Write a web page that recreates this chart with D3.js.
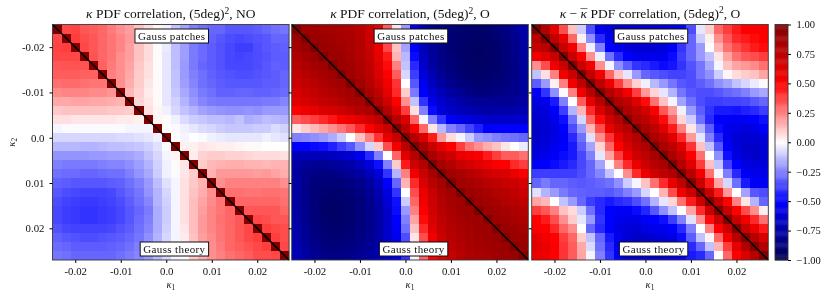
<!DOCTYPE html>
<html><head><meta charset="utf-8">
<script src="https://cdnjs.cloudflare.com/ajax/libs/d3/7.8.5/d3.min.js"></script>
<style>
html,body{margin:0;padding:0;background:#fff}
svg{display:block;filter:blur(.35px)}
text{font-family:"Liberation Serif",serif;fill:#111}
</style></head><body><div id="chart"></div>
<script>
const binEdges=[-0.025,-0.023,-0.021,-0.019,-0.017,-0.015,-0.013,-0.011,-0.009,-0.007,-0.005,-0.003,-0.001,0.001,0.003,0.005,0.007,0.009,0.011,0.013,0.015,0.017,0.019,0.021,0.023,0.025,0.027];
const axisTicks=[-0.02,-0.01,0,0.01,0.02];
const axisTickLabels=["-0.02","-0.01","0.0","0.01","0.02"];
const colorTicks=[-1,-0.75,-0.5,-0.25,0,0.25,0.5,0.75,1];
const colorTickLabels=["\u22121.00","\u22120.75","\u22120.50","\u22120.25","0.00","0.25","0.50","0.75","1.00"];
const annotationTop="Gauss patches";
const annotationBottom="Gauss theory";
// correlation x100, rows top to bottom
const corrNO=[
[100,36,37,33,32,30,26,22,19,12,7,2,-3,-12,-18,-25,-28,-30,-30,-33,-33,-33,-32,-30,-28,-27],
[36,100,38,35,33,30,27,24,20,13,7,2,-3,-12,-19,-25,-28,-31,-33,-35,-36,-35,-34,-33,-30,-30],
[37,38,100,36,33,30,27,24,19,12,7,1,-4,-13,-19,-26,-29,-32,-34,-36,-38,-38,-35,-33,-32,-31],
[36,36,36,100,34,30,27,22,19,12,7,1,-5,-13,-19,-26,-29,-32,-34,-36,-37,-36,-35,-34,-32,-32],
[33,34,34,34,100,31,26,22,18,11,6,1,-5,-13,-20,-26,-30,-32,-34,-36,-36,-36,-35,-33,-31,-32],
[32,32,32,31,31,100,25,22,17,10,6,1,-5,-12,-20,-25,-28,-31,-33,-34,-35,-35,-34,-33,-32,-30],
[28,29,29,28,27,27,100,22,16,10,5,1,-5,-12,-19,-24,-28,-30,-32,-33,-33,-33,-33,-32,-32,-30],
[23,24,24,24,23,23,21,100,14,9,4,1,-5,-11,-17,-22,-26,-28,-31,-31,-30,-30,-31,-31,-30,-29],
[17,17,18,18,17,17,16,15,100,8,5,1,-5,-9,-15,-20,-24,-26,-27,-27,-27,-27,-27,-26,-26,-24],
[11,12,12,12,12,12,11,11,10,100,6,2,-3,-8,-12,-15,-18,-20,-21,-22,-22,-21,-22,-20,-20,-20],
[6,6,5,5,5,5,5,4,4,3,100,2,1,-3,-7,-10,-11,-13,-13,-14,-12,-16,-15,-13,-14,-15],
[-2,-1,-1,-1,-1,-1,-1,-1,-2,-2,-2,100,0,-1,-3,-5,-7,-8,-10,-11,-11,-11,-10,-10,-7,-9],
[-8,-8,-8,-8,-8,-8,-8,-7,-7,-6,-5,-3,100,0,-2,0,-1,-3,-4,-5,-5,-5,-5,-3,-5,-6],
[-14,-14,-14,-15,-15,-14,-13,-13,-12,-11,-9,-6,-1,100,3,3,5,4,3,3,2,1,1,0,0,0],
[-21,-21,-21,-21,-20,-20,-19,-19,-18,-16,-12,-8,-2,2,100,4,9,10,10,9,9,8,7,7,7,6],
[-25,-26,-26,-26,-26,-25,-24,-24,-22,-19,-15,-9,-3,1,5,100,10,14,15,16,16,15,15,14,15,15],
[-28,-29,-29,-30,-30,-29,-28,-28,-25,-21,-17,-10,-3,-1,5,10,100,15,20,20,20,20,19,20,18,16],
[-31,-32,-33,-33,-33,-33,-32,-31,-28,-25,-20,-13,-6,-2,6,11,15,100,22,25,25,25,25,25,25,22],
[-33,-35,-36,-37,-37,-37,-36,-33,-30,-27,-21,-15,-8,-2,6,12,16,22,100,28,28,27,27,28,28,27],
[-35,-37,-38,-39,-39,-38,-37,-35,-32,-28,-24,-15,-9,-2,6,13,18,23,27,100,30,30,30,30,30,28],
[-36,-38,-39,-40,-40,-39,-38,-36,-33,-30,-26,-16,-10,-2,6,13,19,24,27,30,100,33,33,33,33,30],
[-36,-38,-39,-40,-40,-39,-38,-36,-33,-29,-25,-16,-10,-2,6,13,20,24,28,30,33,100,36,35,33,33],
[-34,-36,-37,-37,-37,-37,-36,-34,-32,-28,-24,-16,-9,-2,5,13,20,24,27,30,33,36,100,38,36,35],
[-31,-33,-34,-35,-35,-34,-33,-32,-30,-27,-22,-15,-8,-2,4,12,19,23,27,30,33,36,38,100,38,35],
[-29,-30,-32,-32,-32,-32,-31,-30,-28,-25,-21,-14,-8,-2,2,10,17,22,26,30,32,34,36,38,100,36],
[-27,-28,-30,-30,-30,-30,-30,-28,-26,-24,-20,-14,-8,-2,1,10,16,22,25,28,30,32,35,35,36,100]
];
const corrO=[
[100,88,88,86,85,84,82,78,70,58,32,5,-20,-55,-72,-80,-85,-88,-90,-91,-92,-91,-88,-85,-80,-74],
[88,100,90,88,87,85,83,79,70,58,35,8,-18,-55,-72,-80,-86,-89,-91,-92,-93,-92,-90,-87,-82,-76],
[86,90,100,90,88,87,84,80,72,58,36,12,-18,-52,-70,-79,-85,-89,-91,-93,-94,-93,-91,-88,-83,-77],
[82,86,90,100,90,88,85,80,73,60,45,15,-14,-48,-68,-78,-84,-88,-91,-93,-94,-93,-91,-88,-83,-78],
[78,82,86,89,100,90,87,82,75,63,48,25,-12,-42,-65,-76,-83,-87,-90,-92,-93,-92,-91,-88,-84,-78],
[74,78,82,85,88,100,88,84,77,65,52,32,-8,-38,-60,-72,-80,-85,-89,-91,-92,-91,-90,-87,-84,-78],
[70,74,78,82,85,87,100,87,80,68,55,40,0,-33,-55,-68,-76,-82,-86,-88,-90,-89,-88,-86,-83,-78],
[66,70,74,78,81,84,86,100,84,75,60,42,10,-26,-50,-62,-70,-76,-80,-84,-86,-86,-85,-84,-82,-78],
[62,66,70,74,76,80,84,85,100,82,68,50,22,-12,-40,-55,-65,-70,-75,-78,-80,-80,-80,-80,-79,-76],
[50,56,60,64,66,70,75,80,84,100,80,62,38,6,-25,-48,-60,-66,-70,-72,-74,-75,-75,-75,-74,-72],
[32,35,38,42,46,52,56,62,68,75,100,78,64,30,-2,-25,-40,-52,-57,-60,-62,-65,-65,-65,-65,-64],
[5,10,14,18,22,27,33,42,50,62,72,100,78,52,30,5,-14,-25,-30,-37,-44,-50,-50,-50,-50,-50],
[-25,-24,-22,-20,-16,-10,0,12,25,40,60,72,100,80,65,45,20,7,-2,-10,-20,-22,-25,-27,-28,-30],
[-50,-50,-48,-47,-44,-38,-33,-22,-8,10,35,55,78,100,85,72,60,50,38,28,22,16,12,5,0,-4],
[-70,-70,-70,-70,-68,-66,-62,-55,-42,-25,0,30,62,78,100,85,75,70,60,55,52,45,38,32,32,28],
[-75,-78,-80,-80,-78,-76,-74,-68,-60,-47,-25,10,45,70,80,100,85,80,72,67,62,58,52,50,42,38],
[-76,-82,-84,-85,-84,-82,-80,-76,-70,-60,-40,-15,25,55,72,85,100,87,84,80,75,70,66,64,58,52],
[-76,-83,-87,-88,-88,-87,-85,-82,-77,-68,-50,-30,15,42,65,78,85,100,87,85,82,78,76,72,70,65],
[-76,-83,-87,-90,-91,-90,-88,-85,-80,-72,-58,-40,0,35,58,72,82,87,100,88,87,84,80,78,75,70],
[-76,-83,-88,-91,-92,-91,-90,-87,-82,-75,-62,-47,-10,30,55,70,80,85,88,100,88,87,84,80,78,75],
[-76,-83,-88,-91,-93,-92,-90,-87,-83,-76,-65,-48,-20,25,52,68,78,83,87,88,100,89,87,85,82,80],
[-75,-82,-87,-90,-92,-91,-90,-87,-83,-76,-65,-50,-25,18,48,65,76,82,85,87,89,100,89,87,85,82],
[-74,-81,-86,-89,-91,-91,-89,-86,-82,-76,-65,-52,-28,12,42,62,74,80,84,86,88,89,100,90,88,85],
[-73,-80,-85,-88,-89,-89,-87,-85,-81,-75,-65,-55,-35,5,35,55,70,78,82,85,87,88,90,100,90,88],
[-72,-78,-83,-86,-87,-87,-85,-83,-80,-74,-65,-55,-40,0,30,52,68,76,80,84,86,87,88,90,100,90],
[-70,-76,-80,-83,-84,-84,-82,-80,-77,-72,-63,-55,-40,-2,30,50,62,72,78,82,84,85,87,88,90,100]
];
const corrMean=[
[100,80,60,35,12,-10,-35,-55,-60,-60,-60,-60,-60,-60,-60,-55,-50,-35,-5,10,30,38,45,50,50,52],
[78,100,75,58,30,3,-22,-42,-55,-60,-62,-62,-62,-62,-62,-55,-45,-30,-10,3,22,33,42,45,48,50],
[72,78,100,72,55,25,-3,-25,-50,-55,-60,-62,-62,-62,-60,-52,-40,-30,-20,0,15,28,35,40,45,48],
[55,62,72,100,72,52,22,-3,-28,-42,-50,-55,-56,-56,-55,-48,-38,-30,-20,-12,5,18,28,33,35,38],
[22,35,55,72,100,72,55,22,-2,-22,-32,-40,-42,-45,-48,-46,-40,-34,-27,-17,-2,12,18,20,23,28],
[-12,6,25,55,70,100,75,55,30,12,-5,-20,-30,-33,-35,-37,-37,-35,-27,-22,-10,2,7,10,12,18],
[-32,-20,3,25,55,75,100,78,58,38,22,9,-3,-14,-20,-27,-33,-35,-32,-28,-22,-18,-12,-8,-4,1],
[-52,-40,-22,-1,25,55,78,100,80,68,55,38,20,8,-5,-15,-27,-33,-35,-35,-33,-30,-28,-25,-20,-17],
[-58,-55,-45,-25,0,32,60,78,100,82,75,62,48,28,12,-2,-18,-28,-35,-38,-38,-37,-37,-36,-33,-30],
[-62,-60,-50,-38,-15,15,42,65,80,100,82,76,68,52,33,20,-3,-20,-32,-40,-45,-45,-46,-44,-42,-38],
[-65,-62,-55,-47,-28,-8,30,48,68,80,100,82,76,65,48,30,8,-10,-28,-42,-52,-52,-53,-53,-50,-47],
[-66,-62,-58,-50,-35,-20,14,35,58,72,80,100,84,76,62,45,25,5,-15,-32,-48,-55,-58,-60,-57,-52],
[-65,-62,-58,-52,-42,-28,-6,22,40,60,72,80,100,84,75,62,42,20,-5,-25,-42,-55,-62,-63,-62,-60],
[-62,-60,-55,-50,-45,-32,-18,8,30,50,65,75,82,100,84,76,62,40,12,-12,-33,-52,-60,-65,-65,-62],
[-58,-55,-52,-48,-45,-36,-25,-5,18,38,55,68,76,84,100,84,72,52,28,0,-22,-47,-58,-62,-65,-62],
[-52,-50,-48,-45,-42,-36,-30,-18,2,25,42,58,70,78,84,100,80,62,38,12,-12,-38,-50,-58,-60,-60],
[-38,-38,-38,-38,-38,-35,-30,-24,-12,0,22,42,58,68,76,82,100,78,55,28,-2,-25,-42,-52,-55,-55],
[-30,-26,-30,-30,-32,-33,-32,-30,-28,-22,-10,-2,12,28,42,60,76,100,72,45,18,-8,-28,-45,-52,-52],
[-6,-15,-20,-26,-30,-31,-32,-32,-33,-30,-25,-20,-8,0,15,35,55,72,100,72,45,20,0,-18,-33,-35],
[18,14,0,-12,-20,-30,-38,-42,-45,-42,-40,-35,-28,-15,-5,8,28,45,70,100,75,50,25,5,-15,-30],
[38,33,25,12,7,-10,-28,-42,-50,-53,-52,-48,-43,-33,-22,-12,0,18,42,72,100,72,50,35,22,3],
[50,45,35,22,10,-5,-20,-40,-50,-55,-57,-57,-53,-50,-47,-38,-25,-6,22,48,72,100,72,55,42,28],
[52,50,42,30,22,0,-30,-42,-50,-58,-60,-62,-58,-55,-55,-50,-42,-25,0,25,50,72,100,72,58,45],
[60,55,50,38,30,10,-12,-30,-45,-55,-62,-66,-65,-62,-60,-58,-48,-32,-12,2,30,55,78,100,78,65],
[62,58,52,40,32,17,-7,-28,-42,-55,-60,-65,-65,-62,-60,-58,-52,-42,-30,-12,15,38,60,80,100,80],
[58,56,50,40,32,18,-2,-25,-40,-50,-60,-60,-60,-60,-60,-55,-50,-45,-42,-30,0,30,50,65,78,100]
];
const corrByPanel=[corrNO,corrO,corrMean];

const W=831,H=300,plotTop=24.5,plotBottom=260,TSIZE=13.5,TICK=10.8;
const panelLefts=[52.5,291.7,531.7],panelW=236.6;
const seismic=d3.scaleLinear().domain([-1,-.5,0,.5,1]).range(["#00004d","#0000ff","#ffffff","#ff0000","#800000"]);
const svg=d3.select("#chart").append("svg").attr("width",W).attr("height",H);
const y=d3.scaleLinear().domain([-0.025,0.027]).range([plotTop,plotBottom]);

function kappa(t){t.append("tspan").attr("font-style","italic").text("\u03ba");}
function kappaBar(t){
  kappa(t);
  t.append("tspan").attr("dx",-6.6).attr("dy",-.5).text("\u00af");
  t.append("tspan").attr("dy",.5).text("");
}
function tail(t,end){
  t.append("tspan").text(" PDF correlation, (5deg)");
  t.append("tspan").attr("dy",-4.5).attr("font-size",9.5).text("2");
  t.append("tspan").attr("dy",4.5).text(end);
}
const titles=[
  t=>{kappa(t);tail(t,", NO");},
  t=>{kappa(t);tail(t,", O");},
  t=>{kappa(t);t.append("tspan").text(" \u2212 ");kappaBar(t);tail(t,", O");}
];

corrByPanel.forEach((m,p)=>{
  const L=panelLefts[p];
  const x=d3.scaleLinear().domain([-0.025,0.027]).range([L,L+panelW]);
  const g=svg.append("g");
  const cells=m.flatMap((row,r)=>row.map((v,c)=>({r,c,v})));
  g.selectAll("rect.cell").data(cells).join("rect").attr("class","cell")
    .attr("shape-rendering","crispEdges")
    .attr("x",d=>x(binEdges[d.c])).attr("y",d=>y(binEdges[d.r]))
    .attr("width",d=>x(binEdges[d.c+1])-x(binEdges[d.c]))
    .attr("height",d=>y(binEdges[d.r+1])-y(binEdges[d.r]))
    .attr("fill",d=>seismic(d.v/100));
  g.append("line").attr("x1",x(-0.025)).attr("y1",y(-0.025)).attr("x2",x(0.027)).attr("y2",y(0.027))
    .attr("stroke","#000").attr("stroke-width",1.5);
  g.append("rect").attr("x",L).attr("y",plotTop).attr("width",panelW).attr("height",plotBottom-plotTop)
    .attr("fill","none").attr("stroke","#333").attr("stroke-width",.9);

  const xa=d3.axisBottom(x).tickValues(axisTicks).tickFormat((d,i)=>axisTickLabels[i]).tickSize(3).tickPadding(4.5);
  const gx=svg.append("g").attr("transform",`translate(0,${plotBottom})`).call(xa);
  gx.select(".domain").remove();
  gx.selectAll("text").attr("font-size",TICK).attr("font-family","Liberation Serif");
  const ya=d3.axisLeft(y).tickValues(axisTicks).tickFormat((d,i)=>p==0?axisTickLabels[i]:"").tickSize(3).tickPadding(5);
  const gy=svg.append("g").attr("transform",`translate(${L},0)`).call(ya);
  gy.select(".domain").remove();
  gy.selectAll("text").attr("font-size",TICK).attr("font-family","Liberation Serif");

  const tt=svg.append("text").attr("x",L+panelW/2).attr("y",18).attr("text-anchor","middle").attr("font-size",TSIZE);
  titles[p](tt);

  const lab=svg.append("text").attr("x",L+panelW/2).attr("y",288).attr("text-anchor","middle").attr("font-size",10.5);
  kappa(lab);lab.append("tspan").attr("dy",2).attr("font-size",7.5).text("1");

  [[annotationTop,36],[annotationBottom,249]].forEach(([s,cy])=>{
    const a=svg.append("g");
    const bx=a.append("rect").attr("fill","#fff").attr("stroke","#111").attr("stroke-width",1);
    const t=a.append("text").attr("x",L+156-3).attr("y",cy+3.6).attr("text-anchor","end").attr("font-size",11).attr("letter-spacing",.38).text(s);
    const b=t.node().getBBox();
    bx.attr("x",b.x-3).attr("width",b.width+6).attr("y",cy-7).attr("height",14);
  });
});
const yl=svg.append("text").attr("transform",`translate(15,${(plotTop+plotBottom)/2}) rotate(-90)`).attr("text-anchor","middle").attr("font-size",10.5);
kappa(yl);yl.append("tspan").attr("dy",2).attr("font-size",7.5).text("2");

// colour bar
const cb=d3.scaleLinear().domain([-1,1]).range([plotBottom,plotTop]);
const cbX=775,cbW=13;
const levels=d3.range(-1,1,2/256);
svg.append("g").selectAll("rect").data(levels).join("rect")
  .attr("x",cbX).attr("width",cbW).attr("y",d=>cb(d+2/256)).attr("height",d=>cb(d)-cb(d+2/256)+.4)
  .attr("fill",d=>seismic(d+1/256));
svg.append("rect").attr("x",cbX).attr("y",plotTop).attr("width",cbW).attr("height",plotBottom-plotTop).attr("fill","none").attr("stroke","#333").attr("stroke-width",.9);
const ca=d3.axisRight(cb).tickValues(colorTicks).tickFormat((d,i)=>colorTickLabels[i]).tickSize(3).tickPadding(5.5);
const gc=svg.append("g").attr("transform",`translate(${cbX+cbW},0)`).call(ca);
gc.select(".domain").remove();
gc.selectAll("text").attr("font-size",10.5).attr("font-family","Liberation Serif");
</script></body></html>
